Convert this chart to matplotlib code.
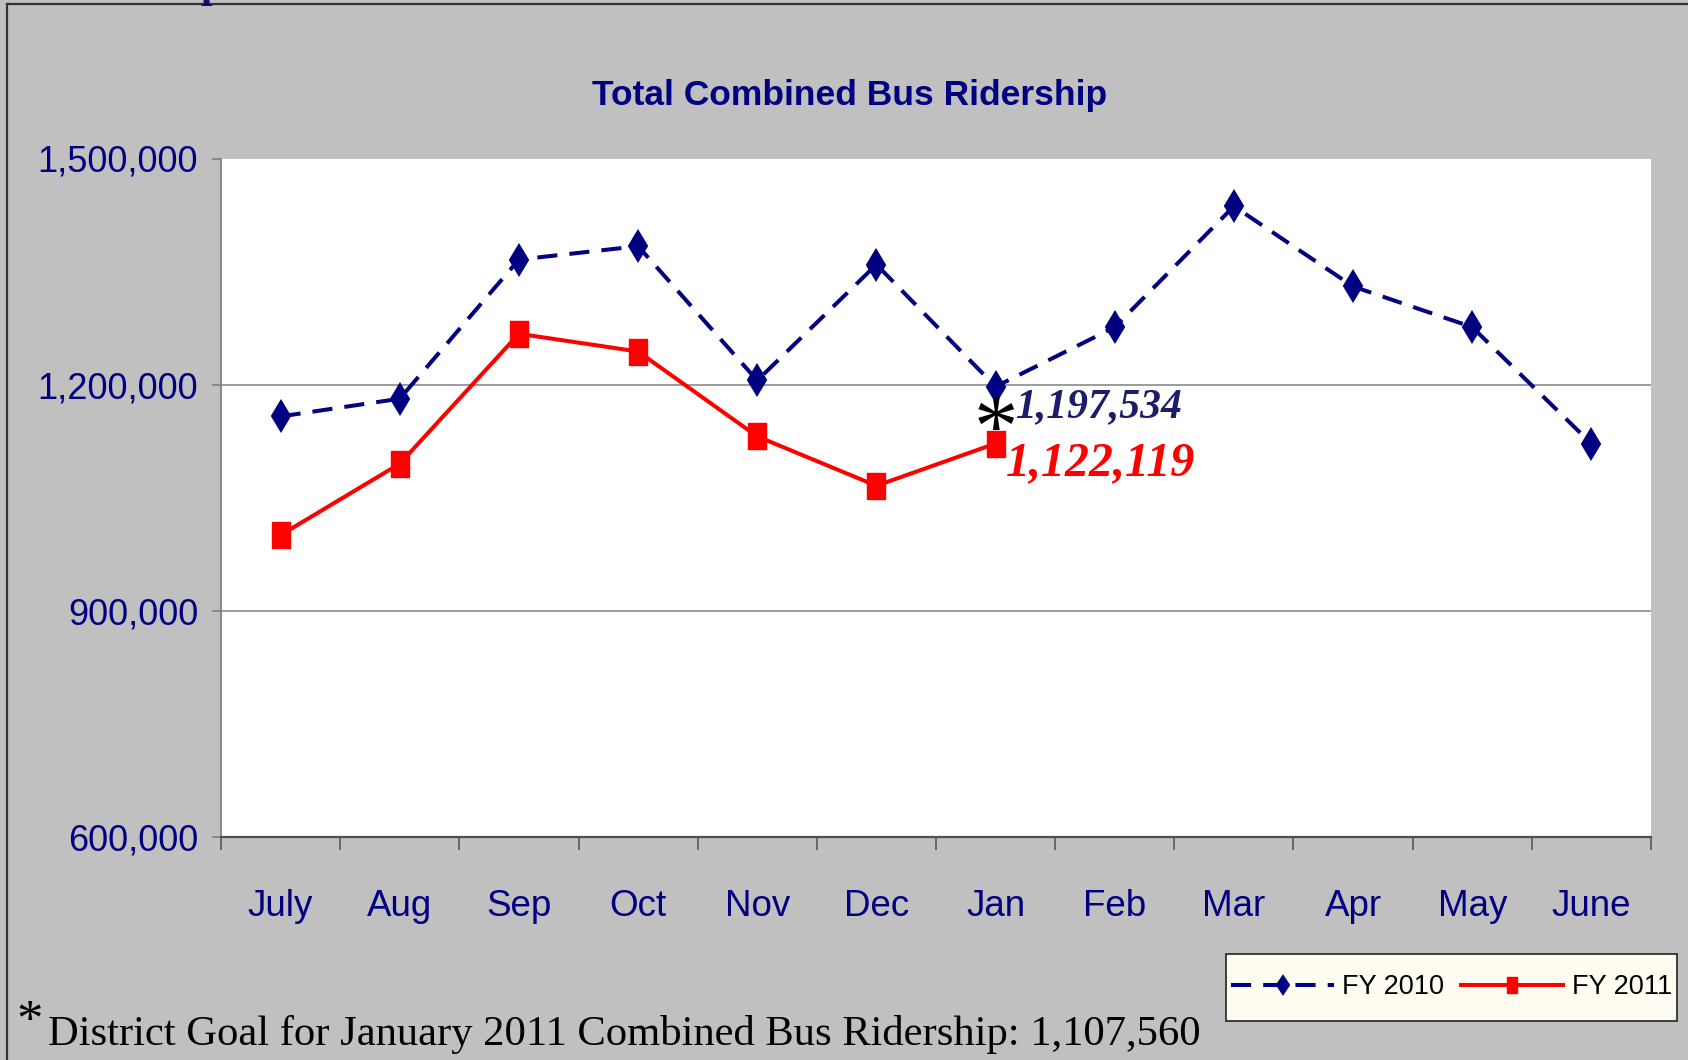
import matplotlib
matplotlib.use("Agg")
import matplotlib.pyplot as plt
from matplotlib.lines import Line2D
from matplotlib.patches import Rectangle
from matplotlib.ticker import FixedLocator, NullFormatter, FixedFormatter

# ---------------- data ----------------
months = ["July", "Aug", "Sep", "Oct", "Nov", "Dec", "Jan", "Feb", "Mar", "Apr", "May", "June"]
fy2010 = [1158000, 1181500, 1366000, 1383700, 1205700, 1359400, 1197534,
          1276400, 1436700, 1330300, 1276400, 1121800]
fy2011 = [1000700, 1095300, 1267600, 1244100, 1131500, 1066100, 1122119]
series_labels = ["FY 2010", "FY 2011"]
yticks = [600000, 900000, 1200000, 1500000]
ytick_labels = ["600,000", "900,000", "1,200,000", "1,500,000"]
title = "Total Combined Bus Ridership"
footnote = "District Goal for January 2011 Combined Bus Ridership: 1,107,560"
label_2010 = "1,197,534"
label_2011 = "1,122,119"

W, H = 1688, 1060
NAVY = "#000080"
GRAY_BG = "#C0C0C0"
SANS = ["Liberation Sans", "DejaVu Sans"]
SERIF = ["Liberation Serif", "DejaVu Serif"]

fig = plt.figure(figsize=(W / 100, H / 100), dpi=100, facecolor=GRAY_BG)

def fx(px):
    return px / W

def fy(py):
    return 1 - py / H

# figure border (left + top)
fig.add_artist(Line2D([fx(6.5), fx(6.5)], [0, fy(4)], color="#333333", lw=1.6,
                      transform=fig.transFigure))
fig.add_artist(Line2D([fx(6.5), 1], [fy(4), fy(4)], color="#333333", lw=1.6,
                      transform=fig.transFigure))
# descender of cropped text above
fig.text(fx(212), fy(-3), "p", family=SERIF, fontsize=30, fontweight="bold",
         color="#10106a", ha="center", va="baseline")

left, right, top, bottom = 221, 1651, 158.5, 837.3
ax = fig.add_axes([fx(left), fy(bottom), fx(right - left), (bottom - top) / H])
ax.set_facecolor("white")

x = list(range(len(months)))
ax.set_xlim(-0.5, len(months) - 0.5)
ax.set_ylim(yticks[0], yticks[-1])

for v in yticks[1:-1]:
    ax.axhline(v, color="#808080", lw=1.1, zorder=1)

rect_marker = [(-2, -3), (2, -3), (2, 3), (-2, 3), (-2, -3)]

ax.plot(x, fy2010, color=NAVY, lw=2.9, linestyle=(0, (5, 3)), marker="d",
        markersize=15.5, markerfacecolor=NAVY, markeredgecolor=NAVY,
        markeredgewidth=1.5, label=series_labels[0], zorder=3)
ax.plot(x[:len(fy2011)], fy2011, color="#FF0000", lw=2.9, linestyle="-",
        marker=rect_marker, markersize=18.5, markerfacecolor="#FF0000",
        markeredgecolor="#FF0000", markeredgewidth=1.0,
        label=series_labels[1], zorder=3)

# spines
for s in ["top", "right"]:
    ax.spines[s].set_visible(False)
ax.spines["left"].set_color("#808080")
ax.spines["left"].set_linewidth(1.3)
ax.spines["bottom"].set_color("#505050")
ax.spines["bottom"].set_linewidth(1.6)

# y axis
ax.yaxis.set_major_locator(FixedLocator(yticks))
ax.set_yticklabels(ytick_labels, family=SANS, fontsize=26, color=NAVY)
ax.tick_params(axis="y", direction="out", length=6.5, width=1.2, color="#808080", pad=10)

# x axis: boundary ticks (major) + labels at centers (minor)
bounds = [i - 0.5 for i in range(len(months) + 1)]
ax.xaxis.set_major_locator(FixedLocator(bounds))
ax.xaxis.set_major_formatter(NullFormatter())
ax.xaxis.set_minor_locator(FixedLocator(x))
ax.xaxis.set_minor_formatter(FixedFormatter(months))
ax.tick_params(axis="x", which="major", direction="out", length=9.5, width=1.1, color="#505050")
ax.tick_params(axis="x", which="minor", length=0, pad=37, labelsize=26.5, labelcolor=NAVY)
for lab in ax.get_xticklabels(minor=True):
    lab.set_family(SANS)

# annotations at January
j = months.index("Jan")
ax.annotate("*", xy=(j, fy2010[j]), xytext=(0.3, -49.5), textcoords="offset points",
            ha="center", va="baseline", family=SERIF, fontsize=64, color="black", zorder=6)
ax.annotate(label_2010, xy=(j, fy2010[j]), xytext=(14, -22.3), textcoords="offset points",
            ha="left", va="baseline", family=SERIF, fontsize=30, fontweight="bold",
            fontstyle="italic", color="#1c1c6c", zorder=6)
ax.annotate(label_2011, xy=(j, fy2011[j]), xytext=(7.5, -23), textcoords="offset points",
            ha="left", va="baseline", family=SERIF, fontsize=34.5, fontweight="bold",
            fontstyle="italic", color="#FF0000", zorder=6)

# title
fig.text(fx(849.5), fy(105), title, family=SANS, fontsize=25.5, fontweight="bold",
         color=NAVY, ha="center", va="baseline")

# footnote
fig.text(fx(16), fy(1036), "*", family=SERIF, fontsize=38, color="black",
         ha="left", va="baseline")
fig.text(fx(48), fy(1045), footnote, family=SERIF, fontsize=30.7, color="black",
         ha="left", va="baseline")

# legend box + legend
fig.add_artist(Rectangle((fx(1226), fy(1021)), fx(1677 - 1226), (1021 - 954) / H,
                         transform=fig.transFigure, facecolor="#FFFCF2",
                         edgecolor="#222222", lw=1.2, zorder=4))
leg = fig.legend(loc="center", bbox_to_anchor=(fx(1451.5), fy(987.5)), ncol=2,
                 prop={"family": SANS, "size": 19.5}, frameon=False,
                 handlelength=3.8, handletextpad=0.3, columnspacing=0.6,
                 borderpad=0.3, markerscale=0.62)
leg.set_zorder(5)
for t in leg.get_texts():
    t.set_color("black")

fig.savefig("out.png", dpi=100, facecolor=GRAY_BG)
